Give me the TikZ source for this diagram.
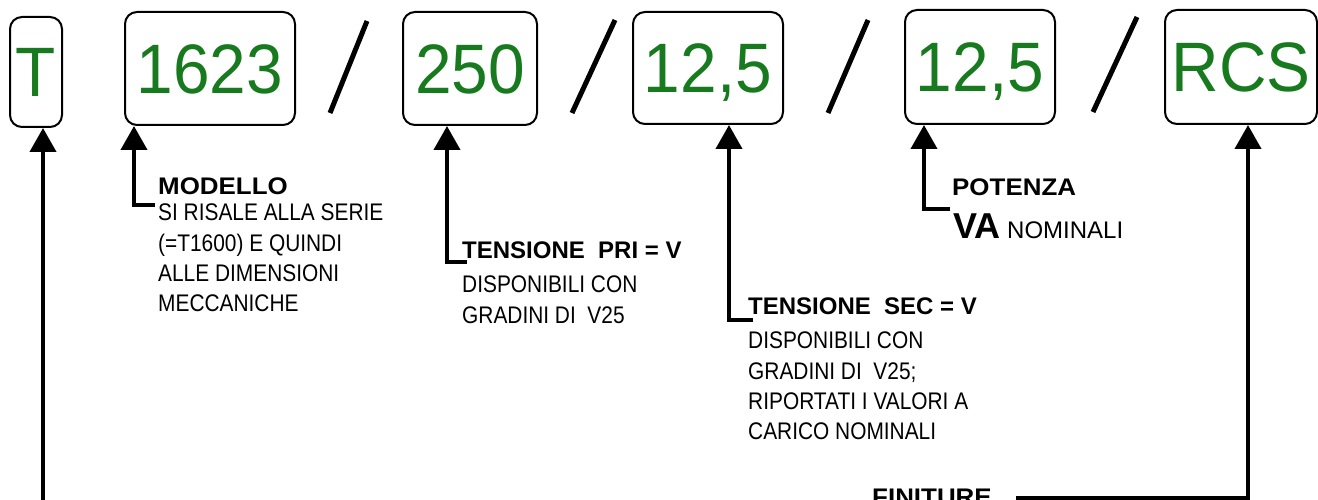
\documentclass[tikz,border=0pt]{standalone}
\usepackage{fontspec}
\setmainfont{Liberation Sans}
\newfontfamily\codefont[FakeStretch=0.94]{Liberation Sans}
\newfontfamily\bodyfont[FakeStretch=0.87]{Liberation Sans}
\newfontfamily\widefont[FakeStretch=1.08]{Liberation Sans}
\usetikzlibrary{arrows.meta}

\begin{document}
\begin{tikzpicture}[
    x=1pt, y=-1pt,
    >={Triangle[width=26pt,length=24pt]},
    codebox/.style={draw, line width=2pt, rounded corners=12pt, inner sep=0pt,
        text=codegreen, font=\codefont\fontsize{70}{70}\selectfont,
        text height=50pt, text depth=0pt},
    slash/.style={line width=5pt},
    arr/.style={->, line width=4pt},
    headtxt/.style={anchor=base west, inner sep=0pt, font=\bfseries\fontsize{24}{30}\selectfont},
    widehead/.style={headtxt, font=\widefont\bfseries\fontsize{24}{30}\selectfont},
    bodytxt/.style={anchor=north west, inner sep=0pt, align=left,
        font=\bodyfont\fontsize{24}{30.3}\selectfont}
]

% ========= Colors =========
\definecolor{codegreen}{RGB}{24,122,30}

% ========= Frame =========
\useasboundingbox (0,0) rectangle (1318,500);
\clip (0,0) rectangle (1318,500);

% ========= Code boxes =========
\node[codebox, minimum width=52pt,  minimum height=110pt] (tipo)  at (36,72)    {T};
\node[codebox, minimum width=170pt, minimum height=113pt] (serie) at (210,68.5) {1623};
\node[codebox, minimum width=134pt, minimum height=113pt] (pri)   at (470,68.5) {250};
\node[codebox, minimum width=150pt, minimum height=112pt] (sec)   at (708,68)   {12,5};
\node[codebox, minimum width=150pt, minimum height=114pt] (pot)   at (980,67)   {12,5};
\node[codebox, minimum width=152pt, minimum height=114pt] (fin)   at (1241,67)  {RCS};

% ========= Slashes =========
\draw[slash] (330,113) -- (367,21);
\draw[slash] (572,113) -- (615,20);
\draw[slash] (828,113) -- (868,20);
\draw[slash] (1093,112) -- (1137,17);

% ========= Labels =========
\node[widehead] (modhead) at (158,195) {MODELLO};
\node[bodytxt] (modbody) at (158,204) {SI RISALE ALLA SERIE\\(=T1600) E QUINDI\\ALLE DIMENSIONI\\MECCANICHE};

\node[headtxt] (prihead) at (462,258) {TENSIONE~~PRI = V};
\node[bodytxt] (pribody) at (462,276) {DISPONIBILI CON\\GRADINI DI~~V25};

\node[headtxt] (sechead) at (748,314) {TENSIONE~~SEC = V};
\node[bodytxt] (secbody) at (748,332) {DISPONIBILI CON\\GRADINI DI~~V25;\\RIPORTATI I VALORI A\\CARICO NOMINALI};

\node[widehead] (pothead) at (952,196) {POTENZA};
\node[headtxt, font=\fontsize{24}{30}\selectfont] (potbody) at (953,238)
    {{\bfseries\fontsize{36}{36}\selectfont VA} NOMINALI};

\node[widehead] (finhead) at (872,505) {FINITURE};

% ========= Arrows =========
\coordinate (tbot) at (43,520);
\draw[arr] (tbot) -- ([xshift=7pt]tipo.south);
\draw[arr] ([shift={(-3pt,-10pt)}]modhead.base west) -| ([xshift=10pt]serie.south west);
\draw[arr] ([shift={(5pt,-4pt)}]prihead.base west) -| ([xshift=45pt]pri.south west);
\draw[arr] ([shift={(5pt,-6pt)}]sechead.base west) -| ([xshift=97pt]sec.south west);
\draw[arr] ([shift={(-2pt,-13pt)}]pothead.base west) -| ([xshift=20pt]pot.south west);
\draw[arr] ([shift={(24pt,7pt)}]finhead.base east) -| ([xshift=84pt]fin.south west);

\end{tikzpicture}
\end{document}
